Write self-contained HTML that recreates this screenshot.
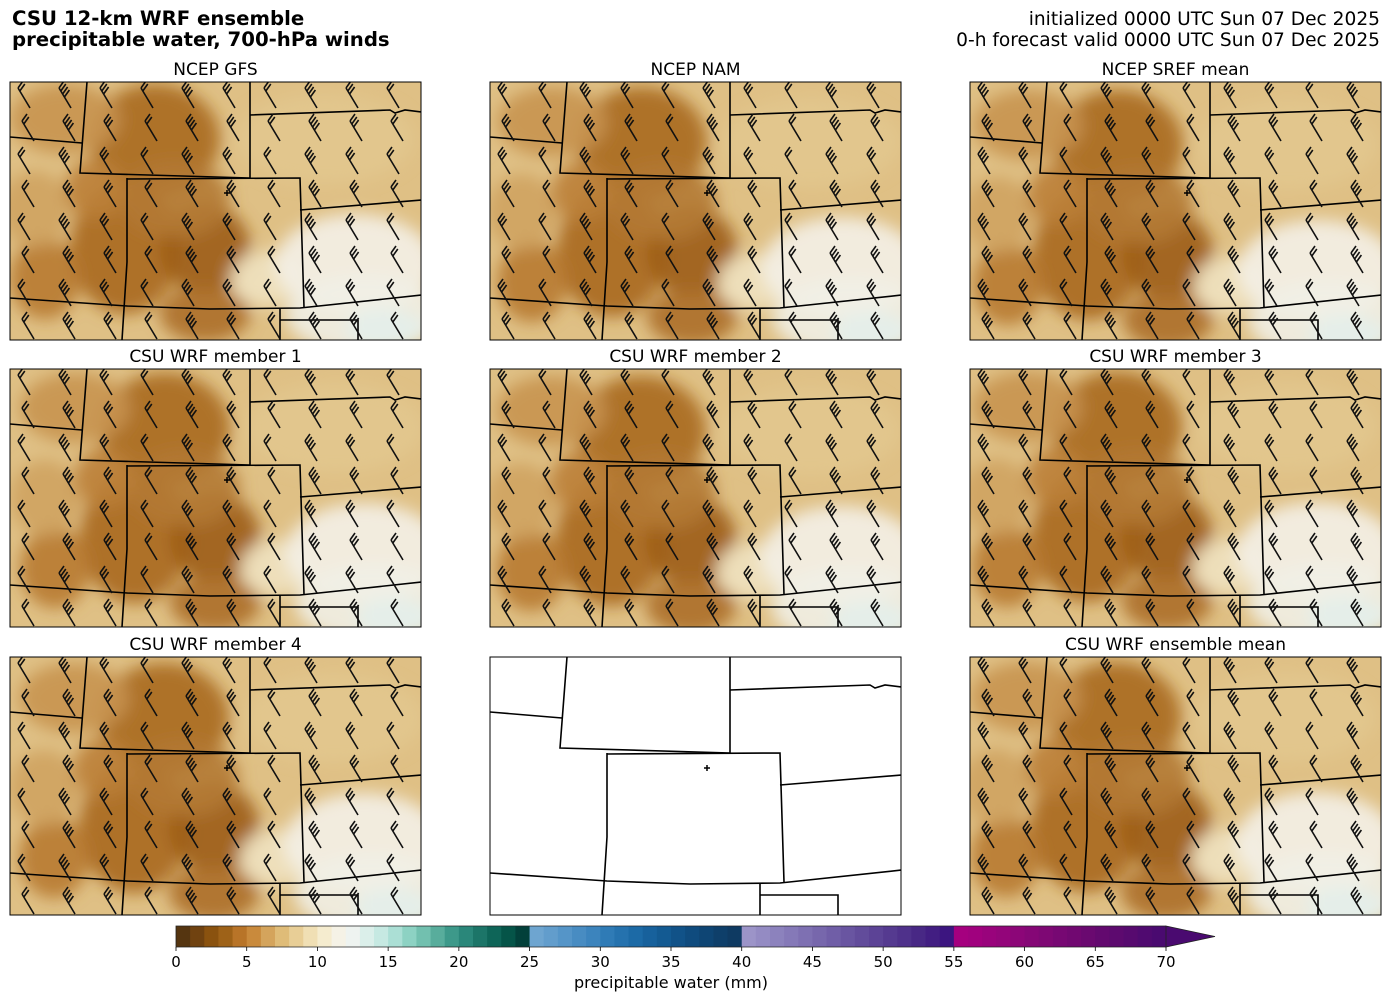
<!DOCTYPE html>
<html><head><meta charset="utf-8">
<style>
body{margin:0;background:#fff;width:1392px;height:1001px;overflow:hidden;font-family:"Liberation Sans","DejaVu Sans",sans-serif;}
</style></head>
<body>
<svg id="fig" width="1392" height="1001" xmlns="http://www.w3.org/2000/svg" font-family="DejaVu Sans, Liberation Sans, sans-serif">
<defs>
<filter id="blur" x="-20%" y="-20%" width="140%" height="140%"><feGaussianBlur stdDeviation="8"/></filter>
</defs>
<text x="12" y="25" font-size="19.7" font-weight="bold">CSU 12-km WRF ensemble</text>
<text x="12" y="46" font-size="19.7" font-weight="bold">precipitable water, 700-hPa winds</text>
<text x="1380" y="25" font-size="18.6" text-anchor="end">initialized 0000 UTC Sun 07 Dec 2025</text>
<text x="1380" y="46" font-size="18.6" text-anchor="end">0-h forecast valid 0000 UTC Sun 07 Dec 2025</text>
<g id="panels"></g>
<g id="cbar"></g>
</svg>
<script>
// colorbar data
const cbLevels=[0,1,2,3,4,5,6,7,8,9,10,11,12,13,14,15,16,17,18,19,20,21,22,23,24,25,26,27,28,29,30,31,32,33,34,35,36,37,38,39,40,41,42,43,44,45,46,47,48,49,50,51,52,53,54,55,56,57,58,59,60,61,62,63,64,65,66,67,68,69];
const cbColors=["#553510","#704210","#8a520f","#9e6218","#b87428","#c98a3c","#d4a45c","#dfbc78","#e8ce96","#f0dfb4","#f5eccf","#f5f2e6","#eef3f0","#dbefea","#c6e9e2","#abdfd5","#8dd2c3","#72c0af","#58ad9c","#3d998a","#2a877a","#1c7568","#0e6558","#055448","#02403a",
"#6ea5d0","#629dcc","#5595c8","#488cc2","#3c84bd","#2f7bb6","#2572ae","#1c6aa6","#17619c","#135a92","#115288","#0f4b7e","#0e4574","#0e3f6a","#0e3a62",
"#9c94c8","#948bc3","#8c82bd","#8579b8","#7e70b2","#7767ac","#705ea7","#6955a1","#624c9b","#5c4396","#553a90","#4f318b","#482885","#421e82","#3c1580",
"#a5007f","#a0017e","#99037c","#93057a","#8c0678","#850776","#7e0874","#770873","#710871","#6a0970","#63096f","#5d0a6f","#570a6f","#500a70","#4a0a70"];
const cbTicks=[0,5,10,15,20,25,30,35,40,45,50,55,60,65,70];
const cbMin=0, cbMax=70;

const NS="http://www.w3.org/2000/svg";
function mk(tag,attrs,parent){const e=document.createElementNS(NS,tag);for(const k in attrs)e.setAttribute(k,attrs[k]);if(parent)parent.appendChild(e);return e;}

const cb=document.getElementById('cbar');


const cbX0=176,cbX1=1166,cbY=926,cbH=21;
const cx=v=>cbX0+(v-cbMin)/(cbMax-cbMin)*(cbX1-cbX0);
cbLevels.forEach((lv,i)=>{
  const r=mk('rect',{x:cx(lv),y:cbY,width:cx(lv+1)-cx(lv)+0.5,height:cbH,fill:cbColors[i]},cb);
  
  
});
const arr=mk('polygon',{points:`${cbX1},${cbY} ${cbX1+49},${cbY+cbH/2} ${cbX1},${cbY+cbH}`,fill:"#4a0a70",stroke:"#222","stroke-width":0.8},cb);


mk('polyline',{points:`${cbX1},${cbY} ${cbX0},${cbY} ${cbX0},${cbY+cbH} ${cbX1},${cbY+cbH}`,fill:"none",stroke:"#222","stroke-width":0.8},cb);
cbTicks.forEach(t=>{
  mk('line',{x1:cx(t),x2:cx(t),y1:cbY+cbH,y2:cbY+cbH+4,stroke:"#000","stroke-width":0.8},cb);
  const tx=mk('text',{x:cx(t),y:cbY+cbH+20,"font-size":15,"text-anchor":"middle"},cb);
  tx.textContent=t;
  
  
});
const cl=mk('text',{x:671,y:988,"font-size":16,"text-anchor":"middle"},cb);
cl.textContent="precipitable water (mm)";



const panelTitles=["NCEP GFS","NCEP NAM","NCEP SREF mean","CSU WRF member 1","CSU WRF member 2","CSU WRF member 3","CSU WRF member 4","","CSU WRF ensemble mean"];
const colX=[10,490,970], rowY=[82,369,657], PW=411, PH=258;
const borders=[
 [[0,55],[72,61]],
 [[77,0],[70,91],[240,96]],
 [[240,0],[240,96]],
 [[240,33],[380,28],[385,31],[395,28],[412,30]],
 [[117,96],[117,180],[112,258]],
 [[117,97],[290,96],[294,225]],
 [[290,128],[412,118]],
 [[0,216],[117,224],[200,227],[290,226],[412,213]],
 [[270,226],[270,258]],
 [[270,238],[348,238],[348,258]]
];
const blobs=[
 [150,60,65,55,"#a9691f"],[120,170,55,65,"#a8681f"],[200,170,45,45,"#9c5c16"],
 [40,200,35,40,"#b87a32"],[200,235,45,28,"#ac6e28"],[60,40,55,35,"#c89450"],
 [170,120,55,38,"#b47a35"],[260,200,35,28,"#f0e2c0"],[350,185,80,50,"#f4f1e8"],
 [360,235,80,40,"#f1efe6"],[320,60,90,45,"#e2c68e"],[30,130,35,38,"#cfa360"],
 [380,250,40,20,"#e3efea"],[90,110,30,30,"#bb7f38"]
];
const P=document.getElementById('panels');
panelTitles.forEach((t,i)=>{
  const x0=colX[i%3], y0=rowY[Math.floor(i/3)];
  const g=mk('g',{transform:`translate(${x0},${y0})`},P);
  
  
  const cpid='cp'+i;
  const cp=mk('clipPath',{id:cpid},g); mk('rect',{x:0,y:0,width:PW,height:PH},cp);
  const inner=mk('g',{'clip-path':`url(#${cpid})`},g);
  const empty=(t==="");
  if(!empty){
    mk('rect',{x:0,y:0,width:PW,height:PH,fill:"#dfc085"},inner);
    const bg=mk('g',{filter:"url(#blur)"},inner);
    const sh=(i*7)%11-5;
    blobs.forEach(b=>{
      const e=mk('ellipse',{cx:b[0]+sh,cy:b[1]+((i*3)%7-3),rx:b[2],ry:b[3],fill:b[4],opacity:0.9},bg);
      
      
    });
  } else {
    mk('rect',{x:0,y:0,width:PW,height:PH,fill:"#fff"},inner);
  }
  borders.forEach(b=>{
    const pl=mk('polyline',{points:b.map(p=>p.join(',')).join(' '),fill:"none",stroke:"#000","stroke-width":1.6},inner);
    
    
  });
  if(!empty){
    const bg2=mk('g',{stroke:"#111","stroke-width":1.6,fill:"none"},inner);
    
    
    for(let r=0;r<8;r++){for(let c=0;c<10;c++){
      const bx=8+c*41+(r%2)*4, by=6+r*33;
      const nf=2+((r*3+c*5+i)%3);
      let d=`M${bx+12},${by+20} L${bx},${by}`;
      for(let f=0;f<nf;f++){const sx=bx+f*1.8,sy=by+f*3;d+=` M${sx},${sy} L${sx+5},${sy-7}`;}
      mk('path',{d},bg2);
    }}
  }
  mk('path',{d:"M214,111h6M217,108v6",stroke:"#000","stroke-width":1.5},inner);
  mk('rect',{x:0,y:0,width:PW,height:PH,fill:"none",stroke:"#000","stroke-width":1},g);
  if(t){const tt=mk('text',{x:PW/2,y:-7,"font-size":17,"text-anchor":"middle"},g);tt.textContent=t;
    
    }
});
</script>
</body></html>
